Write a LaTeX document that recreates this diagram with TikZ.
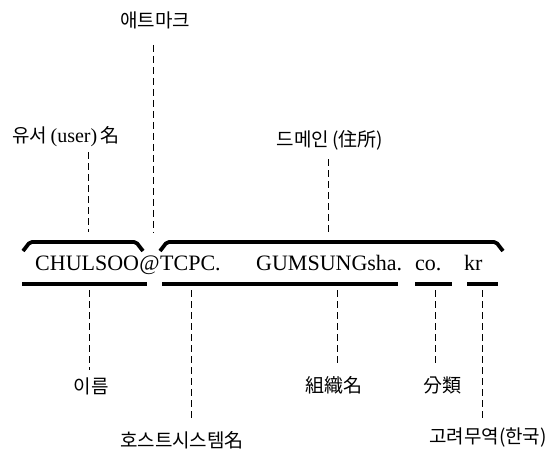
\documentclass[tikz,border=0pt]{standalone}
\usepackage{fontspec}
\setmainfont{Liberation Serif}
\newfontfamily\cjk{Noto Sans CJK KR}
\usetikzlibrary{positioning}

\begin{document}
\begin{tikzpicture}[x=1pt,y=-1pt,
  word/.style={font=\fontsize{22}{24}\selectfont,inner sep=0pt,anchor=base west},
  lbl/.style={font=\cjk\fontsize{19}{21}\selectfont,inner sep=0pt},
  guide/.style={line width=0.8pt,dash pattern=on 7pt off 4pt},
  topbrace/.style={line width=3.8pt,rounded corners=2pt},
  underbar/.style={line width=3.8pt}]
\useasboundingbox (0,0) rectangle (552,453);
\node[word] (user)                       at (35,270) {CHULSOO};
\node[word] (atsign) [base right=0pt of user]   {@};
\node[word] (host)   [base right=0pt of atsign] {TCPC.};
\node[word] (org)                        at (256,270) {GUMSUNGsha.};
\node[word] (cat)                        at (415,270) {co.};
\node[word] (country)                    at (464,270) {kr};
\draw[topbrace] (23,251) -- (30,242) -- (136,242) -- (143,251);
\draw[topbrace] (160,251) -- (167,242) -- (496,242) -- (503,251);
\draw[underbar] (22,284) -- (147,284);
\draw[underbar] (162,284) -- (398,284);
\draw[underbar] (415,284) -- (452,284);
\draw[underbar] (467,284) -- (498,284);
\node[lbl] (atlbl)      at (155,20)  {애트마크};
\node[lbl] (userlbl)    at (66,137)  {유서{\rmfamily\fontsize{20}{22}\selectfont\,(user)\,}名};
\node[lbl] (domainlbl)  at (330,140) {드메인\,(住所)};
\node[lbl] (namelbl)    at (91,386)  {이름};
\node[lbl] (hostlbl)    at (182,440) {호스트시스템名};
\node[lbl] (orglbl)     at (334,385) {組織名};
\node[lbl] (catlbl)     at (442,385) {分類};
\node[lbl] (countrylbl) at (488,437) {고려무역(한국)};
\coordinate (atTip)      at (153,232);
\coordinate (userTip)    at (88,232);
\coordinate (domainTip)  at (328,232);
\coordinate (nameTip)    at (89,290);
\coordinate (hostTip)    at (191,290);
\coordinate (orgTip)     at (337,290);
\coordinate (catTip)     at (435,290);
\coordinate (countryTip) at (482,290);
\draw[guide,shorten <=16pt]   (atTip |- atlbl.south) -- (atTip);
\draw[guide,shorten <=5pt]    (userTip |- userlbl.south) -- (userTip);
\draw[guide,shorten <=9pt]    (domainTip |- domainlbl.south) -- (domainTip);
\draw[guide,shorten >=7pt]    (nameTip) -- (nameTip |- namelbl.north);
\draw[guide,shorten >=12pt]   (hostTip) -- (hostTip |- hostlbl.north);
\draw[guide,shorten >=11pt]   (orgTip) -- (orgTip |- orglbl.north);
\draw[guide,shorten >=11pt]   (catTip) -- (catTip |- catlbl.north);
\draw[guide,shorten >=9pt]    (countryTip) -- (countryTip |- countrylbl.north);
\end{tikzpicture}
\end{document}
